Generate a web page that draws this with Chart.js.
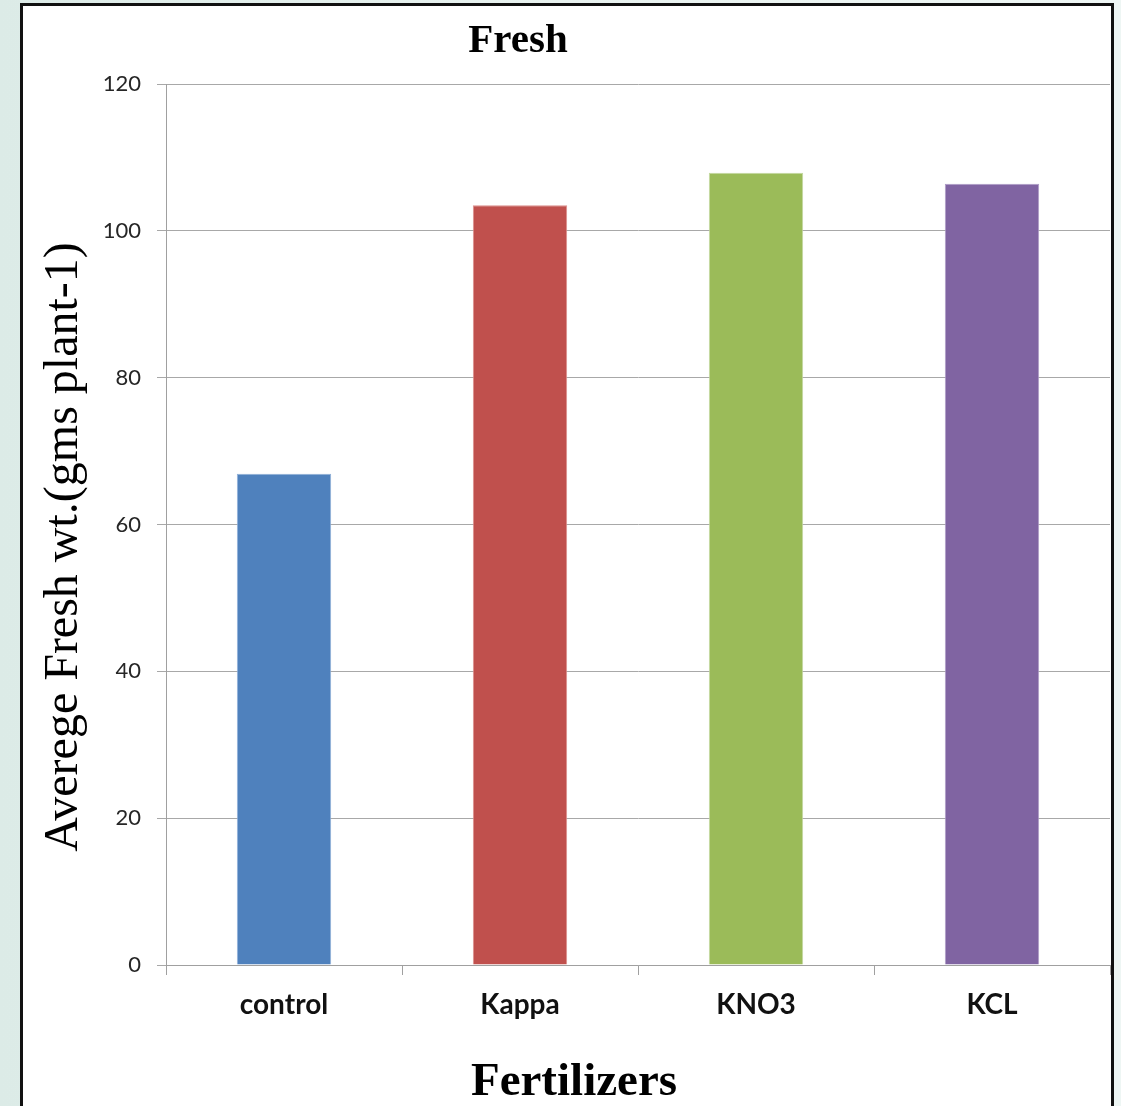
<!DOCTYPE html>
<html>
<head>
<meta charset="utf-8">
<script src="https://cdn.jsdelivr.net/npm/chart.js@4"></script>
<style>
  html, body { margin: 0; padding: 0; }
  body {
    width: 1121px; height: 1106px; overflow: hidden; position: relative;
    background: linear-gradient(to right, #dcebe7 0%, #e8f2ef 50%, #eef6f4 100%);
  }
  #frame {
    position: absolute; left: 20px; top: 3px; width: 1088px; height: 1120px;
    border: 3px solid #111; background: #fff;
  }
  #c { position: absolute; left: 0; top: 0; }
</style>
</head>
<body>
<div id="frame"></div>
<canvas id="c" width="1121" height="1106"></canvas>
<script>
const categories = ['control', 'Kappa', 'KNO3', 'KCL'];
const values = [66.9, 103.5, 107.9, 106.4];
const barColors = ['#4F81BD', '#C0504D', '#9BBB59', '#8064A2'];
const barEdges = ['#8fb0d8', '#dc8f8d', '#c3d8a0', '#ad9bc6'];
const yTicks = [0, 20, 40, 60, 80, 100, 120];
const chartTitle = 'Fresh';
const xTitle = 'Fertilizers';
const yTitle = 'Averege Fresh wt.(gms plant-1)';

const titlesPlugin = {
  id: 'titles',
  afterDraw(chart) {
    const ctx = chart.ctx;
    ctx.save();
    ctx.fillStyle = '#000';
    ctx.textAlign = 'center';
    ctx.textBaseline = 'alphabetic';
    ctx.font = 'bold 41px "Liberation Serif", "Times New Roman", serif';
    ctx.fillText(chartTitle, 518, 52);
    ctx.font = 'bold 47px "Liberation Serif", "Times New Roman", serif';
    ctx.fillText(xTitle, 574, 1095);
    ctx.translate(77, 547);
    ctx.rotate(-Math.PI / 2);
    ctx.font = '48px "Liberation Serif", "Times New Roman", serif';
    ctx.fillText(yTitle, 0, 0);
    ctx.restore();
  }
};

new Chart(document.getElementById('c'), {
  type: 'bar',
  data: {
    labels: categories,
    datasets: [{
      data: values,
      backgroundColor: barColors,
      borderColor: barEdges,
      borderWidth: 1,
      barPercentage: 0.4,
      categoryPercentage: 1.0
    }]
  },
  options: {
    responsive: false,
    animation: false,
    devicePixelRatio: 1,
    layout: { padding: { top: 84, right: 11, bottom: 0, left: 0 } },
    plugins: { legend: { display: false }, tooltip: { enabled: false }, title: { display: false } },
    scales: {
      x: {
        offset: true,
        afterFit(s) { s.height = 1106 - 965; },
        grid: { display: true, drawOnChartArea: false, drawTicks: true, tickLength: 10, color: '#a0a0a0', lineWidth: 1 },
        border: { display: true, color: '#a0a0a0', width: 1 },
        ticks: {
          padding: 13,
          color: '#111',
          font: { family: 'Lato, "Open Sans", sans-serif', size: 28, weight: 'bold' }
        }
      },
      y: {
        min: 0, max: 120,
        afterFit(s) { s.width = 166; },
        afterBuildTicks(s) { s.ticks = yTicks.map(v => ({ value: v })); },
        grid: { color: '#a8a8a8', lineWidth: 1, drawTicks: true, tickLength: 9 },
        border: { display: true, color: '#a0a0a0', width: 1 },
        ticks: {
          padding: 16,
          color: '#262626',
          font: { family: 'Lato, "Open Sans", sans-serif', size: 22 }
        }
      }
    }
  },
  plugins: [titlesPlugin]
});
</script>
</body>
</html>
